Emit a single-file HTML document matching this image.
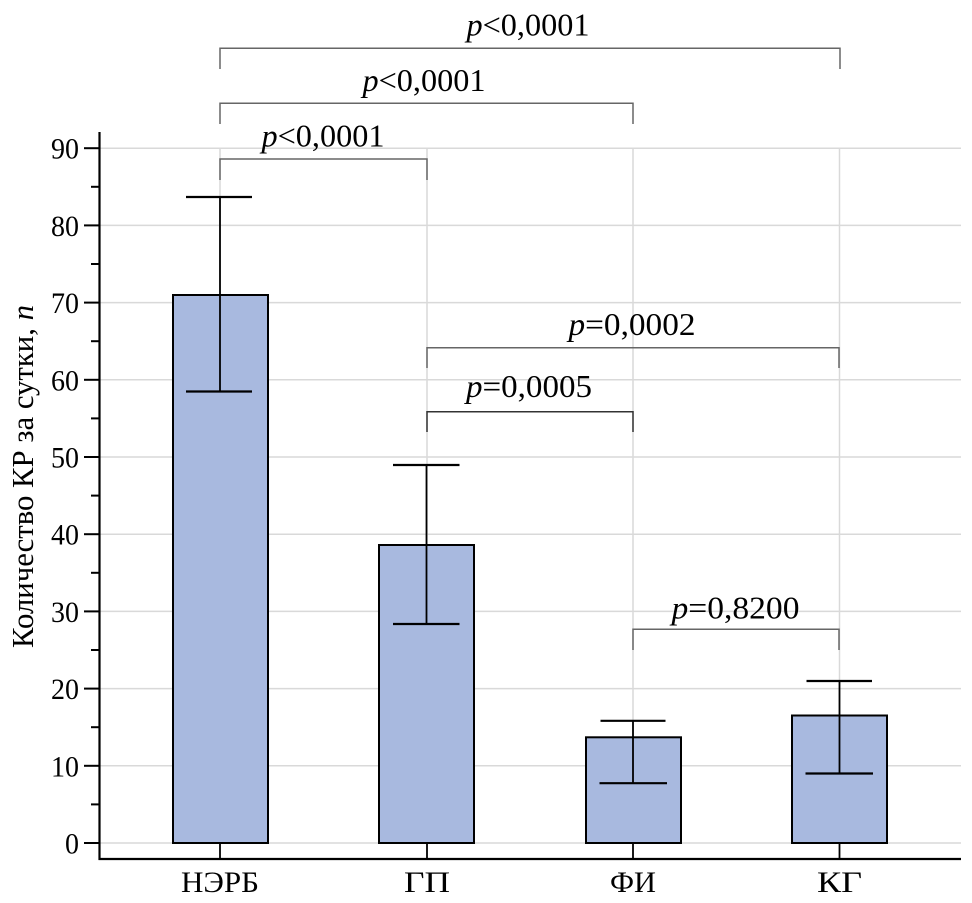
<!DOCTYPE html>
<html>
<head>
<meta charset="utf-8">
<style>
html,body{margin:0;padding:0;background:#fff;}
svg{display:block;}
text{font-family:"Liberation Serif","Times New Roman",Times,"Nimbus Roman","Nimbus Roman No9 L",Tinos,serif;fill:#000;}
</style>
</head>
<body>
<svg width="972" height="903" viewBox="0 0 972 903" xmlns="http://www.w3.org/2000/svg">
  <!-- horizontal gridlines -->
  <g stroke="#d9d9d9" stroke-width="1.5">
    <line x1="100" y1="843" x2="961" y2="843"/>
    <line x1="100" y1="765.8" x2="961" y2="765.8"/>
    <line x1="100" y1="688.6" x2="961" y2="688.6"/>
    <line x1="100" y1="611.4" x2="961" y2="611.4"/>
    <line x1="100" y1="534.2" x2="961" y2="534.2"/>
    <line x1="100" y1="457" x2="961" y2="457"/>
    <line x1="100" y1="379.8" x2="961" y2="379.8"/>
    <line x1="100" y1="302.6" x2="961" y2="302.6"/>
    <line x1="100" y1="225.4" x2="961" y2="225.4"/>
    <line x1="100" y1="148.2" x2="961" y2="148.2"/>
    <!-- vertical gridlines -->
    <line x1="220" y1="148.2" x2="220" y2="843"/>
    <line x1="427" y1="148.2" x2="427" y2="843"/>
    <line x1="633" y1="148.2" x2="633" y2="843"/>
    <line x1="839.5" y1="148.2" x2="839.5" y2="843"/>
  </g>

  <!-- bars -->
  <g fill="#a8b9df" stroke="#000" stroke-width="2">
    <rect x="173" y="295" width="95" height="548"/>
    <rect x="379" y="545" width="95" height="298"/>
    <rect x="586" y="737.3" width="95" height="105.7"/>
    <rect x="792" y="715.5" width="95" height="127.5"/>
  </g>

  <!-- error bars -->
  <g stroke="#000" stroke-width="1.8" fill="none">
    <line x1="220" y1="197" x2="220" y2="391.5"/>
    <line x1="186" y1="197" x2="252" y2="197" stroke-width="2.2"/>
    <line x1="186" y1="391.5" x2="252" y2="391.5" stroke-width="2.2"/>

    <line x1="426.5" y1="465" x2="426.5" y2="624"/>
    <line x1="393" y1="465" x2="459.5" y2="465" stroke-width="2.2"/>
    <line x1="393" y1="624" x2="459.5" y2="624" stroke-width="2.2"/>

    <line x1="633" y1="720.8" x2="633" y2="783.2"/>
    <line x1="600.5" y1="720.8" x2="665.5" y2="720.8" stroke-width="2.2"/>
    <line x1="599.5" y1="783.2" x2="667" y2="783.2" stroke-width="2.2"/>

    <line x1="839.5" y1="681" x2="839.5" y2="773.5"/>
    <line x1="806.5" y1="681" x2="872" y2="681" stroke-width="2.2"/>
    <line x1="805.5" y1="773.5" x2="873" y2="773.5" stroke-width="2.2"/>
  </g>

  <!-- category ticks -->
  <g stroke="#000" stroke-width="1.8">
    <line x1="220" y1="843" x2="220" y2="859"/>
    <line x1="427" y1="843" x2="427" y2="859"/>
    <line x1="633" y1="843" x2="633" y2="859"/>
    <line x1="839.5" y1="843" x2="839.5" y2="859"/>
  </g>

  <!-- axes -->
  <g stroke="#000" stroke-width="2.2">
    <line x1="99.5" y1="132" x2="99.5" y2="860"/>
    <line x1="98.5" y1="859" x2="961" y2="859"/>
  </g>
  <!-- y ticks -->
  <g stroke="#000" stroke-width="2">
    <line x1="84" y1="843" x2="99" y2="843"/>
    <line x1="84" y1="765.8" x2="99" y2="765.8"/>
    <line x1="84" y1="688.6" x2="99" y2="688.6"/>
    <line x1="84" y1="611.4" x2="99" y2="611.4"/>
    <line x1="84" y1="534.2" x2="99" y2="534.2"/>
    <line x1="84" y1="457" x2="99" y2="457"/>
    <line x1="84" y1="379.8" x2="99" y2="379.8"/>
    <line x1="84" y1="302.6" x2="99" y2="302.6"/>
    <line x1="84" y1="225.4" x2="99" y2="225.4"/>
    <line x1="84" y1="148.2" x2="99" y2="148.2"/>
    <line x1="91" y1="804.4" x2="99" y2="804.4"/>
    <line x1="91" y1="727.2" x2="99" y2="727.2"/>
    <line x1="91" y1="650" x2="99" y2="650"/>
    <line x1="91" y1="572.8" x2="99" y2="572.8"/>
    <line x1="91" y1="495.6" x2="99" y2="495.6"/>
    <line x1="91" y1="418.4" x2="99" y2="418.4"/>
    <line x1="91" y1="341.2" x2="99" y2="341.2"/>
    <line x1="91" y1="264" x2="99" y2="264"/>
    <line x1="91" y1="186.8" x2="99" y2="186.8"/>
  </g>

  <!-- y tick labels -->
  <g font-size="30" text-anchor="end">
    <text x="79" y="853.5" textLength="14" lengthAdjust="spacingAndGlyphs">0</text>
    <text x="79" y="776.3" textLength="28" lengthAdjust="spacingAndGlyphs">10</text>
    <text x="79" y="699.1" textLength="28" lengthAdjust="spacingAndGlyphs">20</text>
    <text x="79" y="621.9" textLength="28" lengthAdjust="spacingAndGlyphs">30</text>
    <text x="79" y="544.7" textLength="28" lengthAdjust="spacingAndGlyphs">40</text>
    <text x="79" y="467.5" textLength="28" lengthAdjust="spacingAndGlyphs">50</text>
    <text x="79" y="390.3" textLength="28" lengthAdjust="spacingAndGlyphs">60</text>
    <text x="79" y="313.1" textLength="28" lengthAdjust="spacingAndGlyphs">70</text>
    <text x="79" y="235.9" textLength="28" lengthAdjust="spacingAndGlyphs">80</text>
    <text x="79" y="158.7" textLength="28" lengthAdjust="spacingAndGlyphs">90</text>
  </g>

  <!-- y title -->
  <text transform="translate(33,476.5) rotate(-90)" text-anchor="middle" font-size="31" textLength="343" lengthAdjust="spacingAndGlyphs">Количество КР за сутки, <tspan font-style="italic">n</tspan></text>

  <!-- category labels -->
  <g font-size="30" text-anchor="middle">
    <text x="220" y="892" textLength="78" lengthAdjust="spacingAndGlyphs">НЭРБ</text>
    <text x="427" y="892" textLength="46" lengthAdjust="spacingAndGlyphs">ГП</text>
    <text x="633" y="892" textLength="46" lengthAdjust="spacingAndGlyphs">ФИ</text>
    <text x="839.5" y="892" textLength="45" lengthAdjust="spacingAndGlyphs">КГ</text>
  </g>

  <!-- significance brackets -->
  <g stroke="#666" stroke-width="1.5" fill="none">
    <polyline points="220,69 220,48.3 840,48.3 840,69"/>
    <polyline points="220,124 220,103.3 633,103.3 633,124"/>
    <polyline points="220,180 220,159 427,159 427,180"/>
    <polyline points="427,368 427,347.7 839,347.7 839,368"/>
    <polyline points="427,432 427,411.7 633,411.7 633,432" stroke="#333"/>
    <polyline points="633,650 633,629.3 839,629.3 839,650"/>
  </g>

  <g font-size="32" text-anchor="middle">
    <text x="528" y="35.5" textLength="123" lengthAdjust="spacingAndGlyphs"><tspan font-style="italic">p</tspan>&lt;0,0001</text>
    <text x="424" y="91" textLength="123" lengthAdjust="spacingAndGlyphs"><tspan font-style="italic">p</tspan>&lt;0,0001</text>
    <text x="323" y="146.5" textLength="123" lengthAdjust="spacingAndGlyphs"><tspan font-style="italic">p</tspan>&lt;0,0001</text>
    <text x="632" y="335" textLength="127" lengthAdjust="spacingAndGlyphs"><tspan font-style="italic">p</tspan>=0,0002</text>
    <text x="529" y="397" textLength="126" lengthAdjust="spacingAndGlyphs"><tspan font-style="italic">p</tspan>=0,0005</text>
    <text x="735.5" y="618.3" textLength="128" lengthAdjust="spacingAndGlyphs"><tspan font-style="italic">p</tspan>=0,8200</text>
  </g>
</svg>
</body>
</html>
